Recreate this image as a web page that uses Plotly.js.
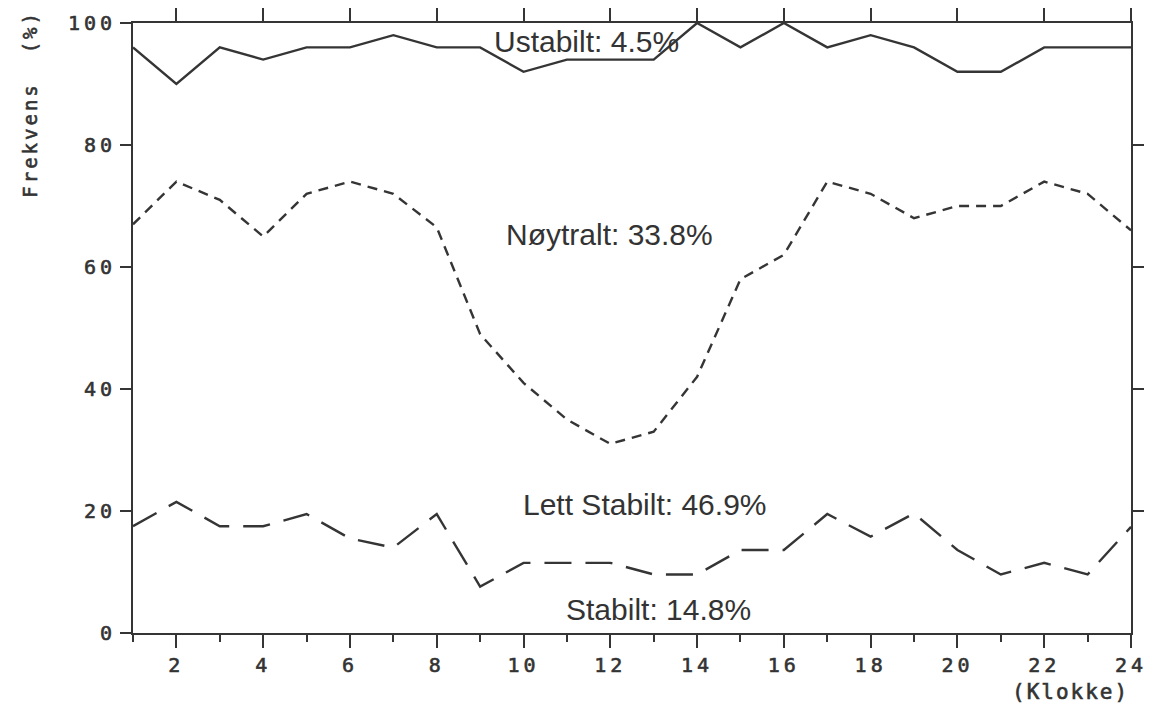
<!DOCTYPE html>
<html>
<head>
<meta charset="utf-8">
<script src="https://cdn.plot.ly/plotly-3.0.1.min.js"></script>
<style>
  html, body { margin: 0; padding: 0; background: #fff; }
  #chart { width: 1152px; height: 708px; }
  .xtick text, .ytick text { letter-spacing: 4px; stroke: #333; stroke-width: 0.6px; }
</style>
</head>
<body>
<div id="chart"></div>
<script>
// Hour of day (Klokke)
const hours = [1,2,3,4,5,6,7,8,9,10,11,12,13,14,15,16,17,18,19,20,21,22,23,24];

// Cumulative frequency (%) curves
// Stabilt (lower boundary, long dashes)
const stabilt = [17.5,21.5,17.5,17.5,19.5,15.5,14,19.5,7.6,11.5,11.5,11.5,9.6,9.6,13.6,13.6,19.5,15.8,19.6,13.6,9.6,11.5,9.6,17.4];
// Stabilt + Lett stabilt (dashed)
const lettStabilt = [67,74,71,65,72,74,72,66.5,49,41,35,31,33,42,58,62,74,72,68,70,70,74,72,66];
// Stabilt + Lett stabilt + Nøytralt (solid)
const noytralt = [96,90,96,94,96,96,98,96,96,92,94,94,94,100,96,100,96,98,96,92,92,96,96,96];

// Class labels with overall shares
const labels = ["Ustabilt: 4.5%", "Nøytralt: 33.8%", "Lett Stabilt: 46.9%", "Stabilt: 14.8%"];
const labelX = [11.44, 11.98, 12.79, 13.12];
const labelY = [97.0, 65.3, 21.0, 3.9];

const yTicks = [0,20,40,60,80,100];
const yTicksRight = [20,40,60,80];
const xTicks = [2,4,6,8,10,12,14,16,18,20,22,24];
const xMinor = [1,3,5,7,9,11,13,15,17,19,21,23];

const lineColor = '#353535';
const tickFont = {family: 'DejaVu Sans Mono', size: 20, color: '#333'};
const textFont = {family: 'Liberation Sans, Arial', size: 30, color: '#333'};

const traces = [
  {x: hours, y: noytralt, mode: 'lines', line: {color: lineColor, width: 2.4}, xaxis: 'x', yaxis: 'y'},
  {x: hours, y: lettStabilt, mode: 'lines', line: {color: lineColor, width: 2.4, dash: '10px,7px'}, xaxis: 'x', yaxis: 'y'},
  {x: hours, y: stabilt, mode: 'lines', line: {color: lineColor, width: 2.4, dash: '27px,14px'}, xaxis: 'x', yaxis: 'y'},
  {x: [], y: [], mode: 'lines', xaxis: 'x2', yaxis: 'y2', hoverinfo: 'skip'}
];

const annotations = labels.map((t, i) => ({
  x: labelX[i], y: labelY[i], xref: 'x', yref: 'y', text: t, showarrow: false,
  font: textFont, xanchor: 'center', yanchor: 'middle'
}));

annotations.push({
  x: -0.104, y: 0.868, xref: 'paper', yref: 'paper',
  text: '<span style="letter-spacing:3px;stroke:#333;stroke-width:0.6px">Frekvens\u00a0\u00a0(%)</span>',
  textangle: -90, showarrow: false, xanchor: 'center', yanchor: 'middle',
  font: {family: 'DejaVu Sans Mono', size: 19, color: '#333'}
});
annotations.push({
  x: 1.0, y: -0.097, xref: 'paper', yref: 'paper',
  text: '<span style="letter-spacing:2px;stroke:#333;stroke-width:0.6px">(Klokke)</span>',
  showarrow: false, xanchor: 'right', yanchor: 'middle',
  font: {family: 'DejaVu Sans Mono', size: 21, color: '#333'}
});

const layout = {
  width: 1152, height: 708,
  margin: {l: 133, r: 21, t: 23, b: 75, pad: 0},
  paper_bgcolor: '#fff', plot_bgcolor: '#fff',
  showlegend: false,
  xaxis: {
    range: [1, 24], tickvals: xTicks, ticktext: xTicks.map(String),
    ticks: 'outside', ticklen: 13, tickwidth: 2, tickcolor: lineColor,
    showline: true, linecolor: lineColor, linewidth: 2, showgrid: false, zeroline: false,
    tickfont: tickFont,
    minor: {tickvals: xMinor, ticks: 'outside', ticklen: 7, tickwidth: 2, tickcolor: lineColor, showgrid: false}
  },
  xaxis2: {
    overlaying: 'x', side: 'top', range: [1, 24], tickvals: xTicks,
    ticks: 'outside', ticklen: 13, tickwidth: 2, tickcolor: lineColor,
    showline: true, linecolor: lineColor, linewidth: 2, showgrid: false, zeroline: false,
    showticklabels: false
  },
  yaxis: {
    range: [0, 100], tickvals: yTicks, ticktext: yTicks.map(String),
    ticks: 'outside', ticklen: 11, tickwidth: 2, tickcolor: lineColor,
    showline: true, linecolor: lineColor, linewidth: 2, showgrid: false, zeroline: false,
    tickfont: tickFont
  },
  yaxis2: {
    overlaying: 'y', side: 'right', range: [0, 100], tickvals: yTicksRight,
    ticks: 'outside', ticklen: 11, tickwidth: 2, tickcolor: lineColor,
    showline: true, linecolor: lineColor, linewidth: 2, showgrid: false, zeroline: false,
    showticklabels: false
  },
  annotations: annotations
};

Plotly.newPlot('chart', traces, layout, {staticPlot: true});
</script>
</body>
</html>
